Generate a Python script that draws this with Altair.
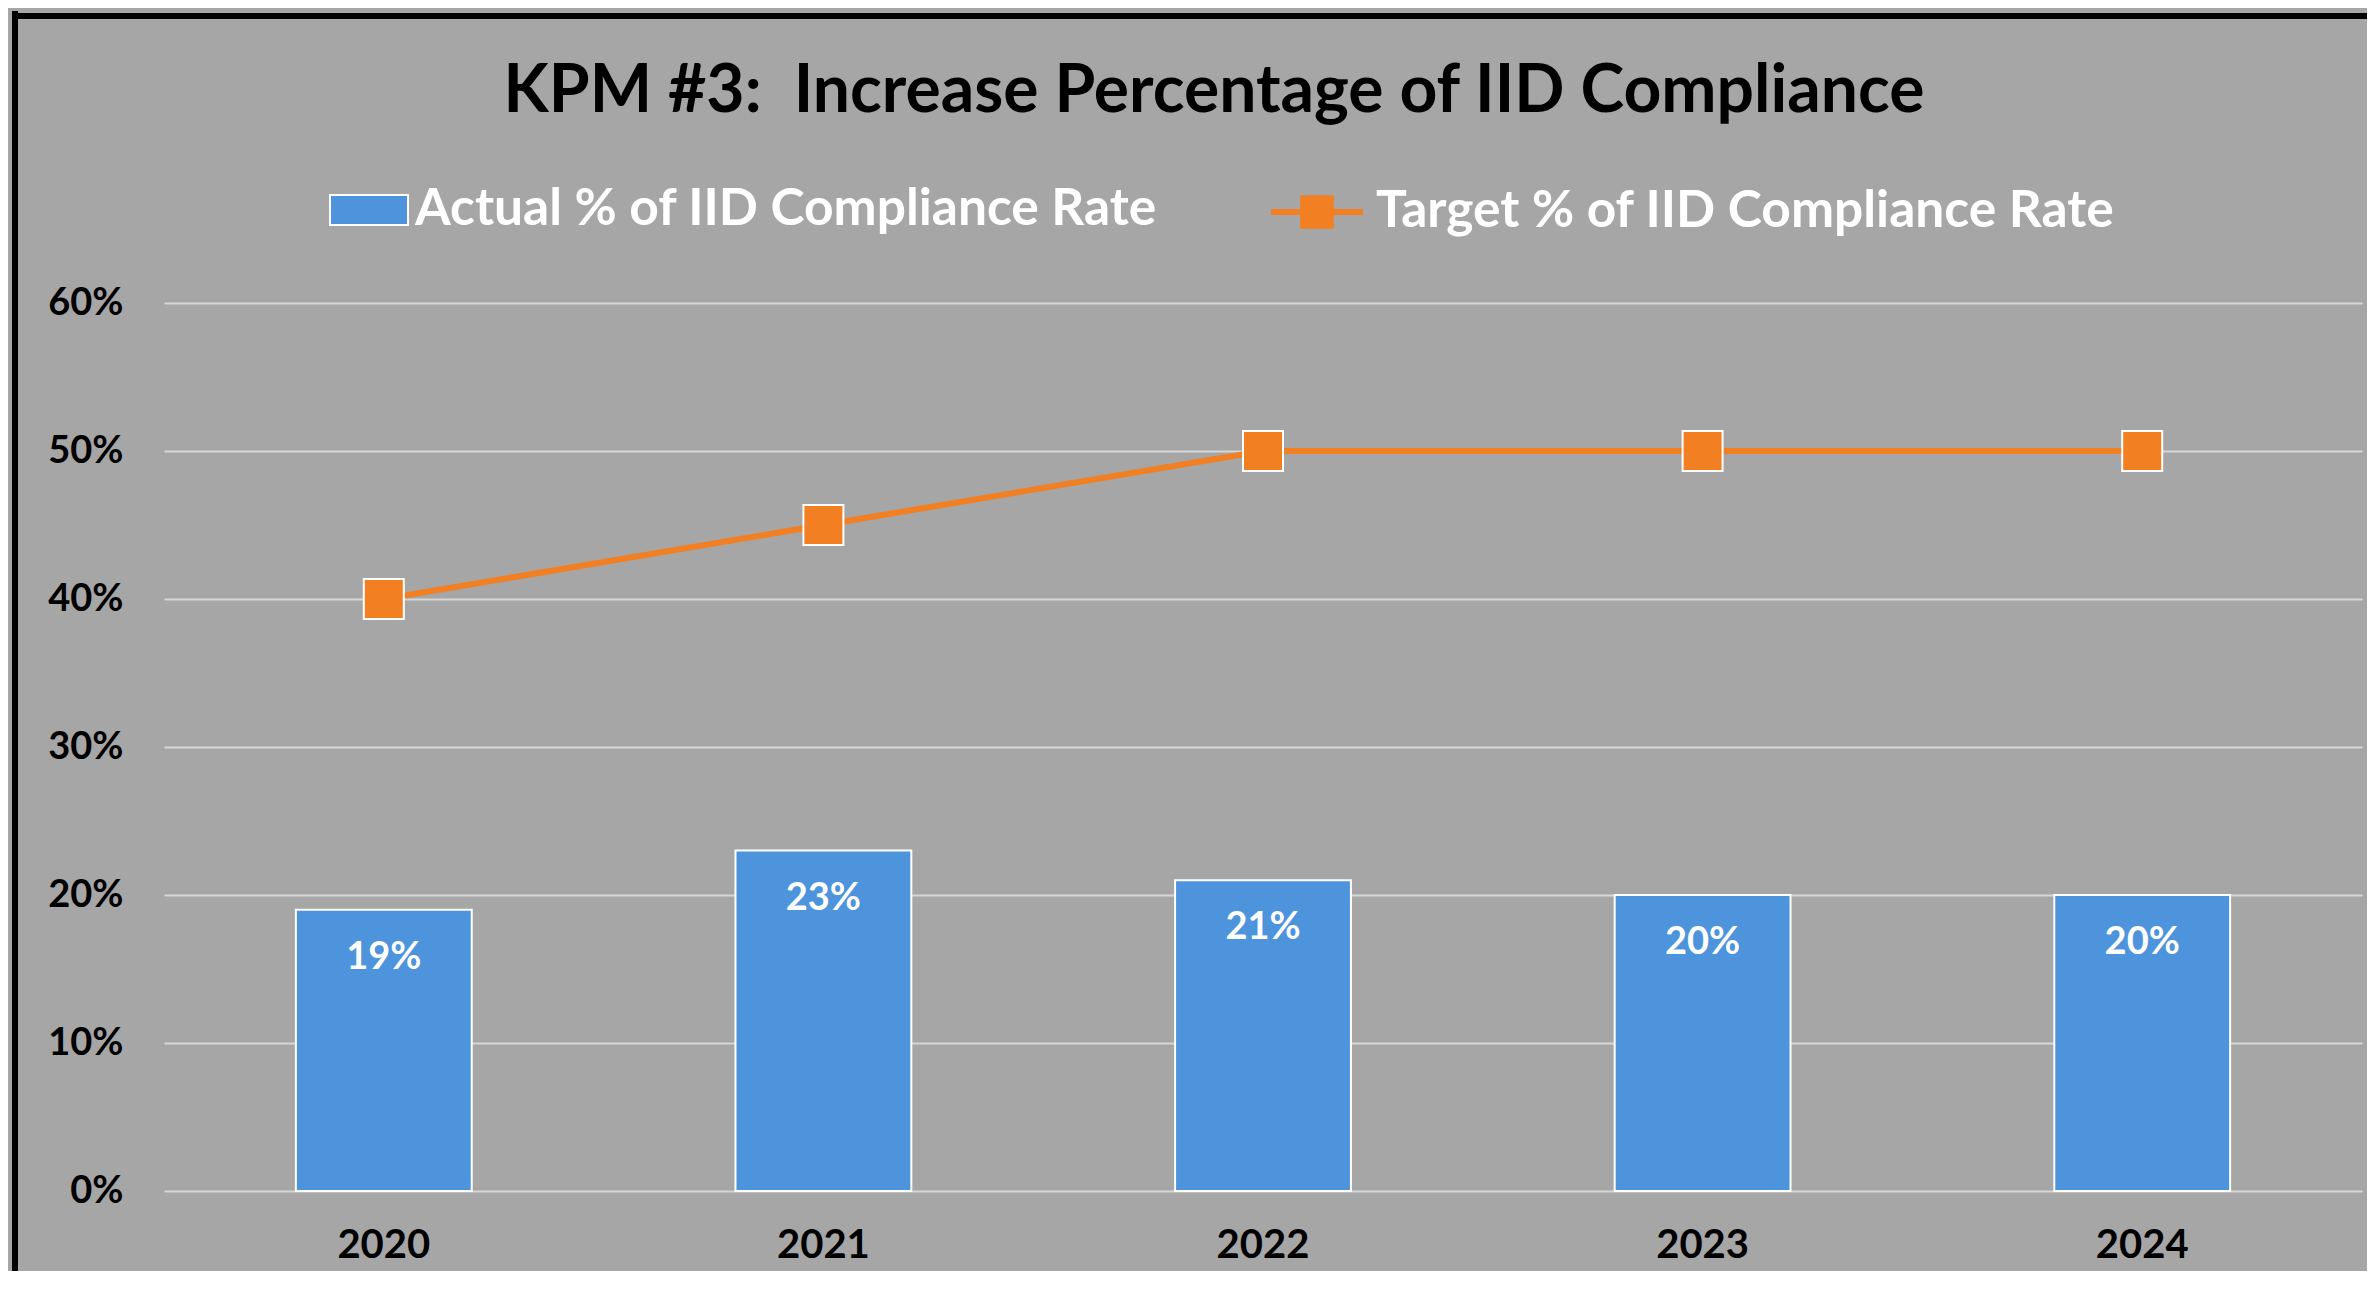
import altair as alt
import pandas as pd

years = ["2020", "2021", "2022", "2023", "2024"]
actual = [0.19, 0.23, 0.21, 0.20, 0.20]
target = [0.40, 0.45, 0.50, 0.50, 0.50]
actual_name = "Actual % of IID Compliance Rate"
target_name = "Target % of IID Compliance Rate"
y_ticks = [0.0, 0.1, 0.2, 0.3, 0.4, 0.5, 0.6]
title_text = "KPM #3:\u00a0 Increase Percentage of IID Compliance"

df = pd.DataFrame({
    "year": years,
    "actual": actual,
    "target": target,
    "s_actual": [actual_name] * len(years),
    "s_target": [target_name] * len(years),
})

FONT = "Lato"
BLUE = "#4d94dc"
ORANGE = "#f27f22"
GRAY = "#a6a6a6"
GRID = "#d6d6d6"

x = alt.X(
    "year:N",
    scale=alt.Scale(paddingInner=0.6, paddingOuter=0.3),
    axis=alt.Axis(title=None, labelAngle=0, ticks=False, domain=False, grid=False,
                  labelFont=FONT, labelFontSize=40, labelFontWeight="bold",
                  labelColor="#000000", labelPadding=34),
)
yscale = alt.Scale(domain=[0, 0.6], nice=False)

base = alt.Chart(df)

bars = base.mark_bar(stroke="white", strokeWidth=2).encode(
    x=x,
    y=alt.Y("actual:Q", scale=yscale,
            axis=alt.Axis(title=None, values=y_ticks, format=".0%", ticks=False, domain=False,
                          gridColor=GRID, gridWidth=2, labelFont=FONT, labelFontSize=38,
                          labelFontWeight="bold", labelColor="#000000", labelPadding=41)),
    color=alt.Color("s_actual:N", scale=alt.Scale(domain=[actual_name], range=[BLUE]),
                    legend=alt.Legend(title=None, orient="none", legendX=165, legendY=-133,
                                      symbolType="M-1,-0.385L1,-0.385L1,0.385L-1,0.385Z",
                                      symbolSize=6084, symbolStrokeColor="white",
                                      symbolStrokeWidth=2, symbolFillColor=BLUE,
                                      symbolOpacity=1, labelFont=FONT, labelFontSize=51.5,
                                      labelFontWeight="bold", labelColor="white",
                                      labelLimit=2000, labelOffset=6, padding=0)),
)

labels = base.mark_text(font=FONT, fontSize=38, fontWeight="bold", color="white",
                        baseline="middle", dy=48).encode(
    x=alt.X("year:N"),
    y=alt.Y("actual:Q"),
    text=alt.Text("actual:Q", format=".0%"),
)

line = base.mark_line(strokeWidth=6).encode(
    x=alt.X("year:N"),
    y=alt.Y("target:Q"),
    color=alt.Color("s_target:N", scale=alt.Scale(domain=[target_name], range=[ORANGE]),
                    legend=alt.Legend(title=None, orient="none", legendX=1104, legendY=-140,
                                      symbolType="M-1,0L1,0M-0.3,-0.3L0.3,-0.3L0.3,0.3L-0.3,0.3Z",
                                      symbolSize=8464, symbolStrokeColor=ORANGE,
                                      symbolStrokeWidth=6, symbolFillColor=ORANGE,
                                      symbolOpacity=1, labelFont=FONT, labelFontSize=51.5,
                                      labelFontWeight="bold", labelColor="white",
                                      labelLimit=2000, labelOffset=10, padding=0)),
)

markers = base.mark_square(size=1600, filled=True, fill=ORANGE, stroke="white",
                           strokeWidth=2, opacity=1).encode(
    x=alt.X("year:N"),
    y=alt.Y("target:Q"),
)

frame = alt.Chart(alt.Data(values=[{"k": 1}]))
frame_left = frame.mark_rule(color="black", strokeWidth=6).encode(
    x=alt.value(-149), y=alt.value(-292), y2=alt.value(1000))
frame_top = frame.mark_rule(color="black", strokeWidth=6).encode(
    x=alt.value(-152), x2=alt.value(2230), y=alt.value(-287))

chart = alt.layer(bars, labels, line, markers, frame_left, frame_top).resolve_scale(
    color="independent"
).properties(
    width=2198,
    height=888,
    padding={"left": 156, "top": 295, "right": 5, "bottom": 80},
    autosize=alt.AutoSizeParams(type="none"),
    title=alt.Title(title_text, font=FONT, fontSize=66, fontWeight="bold", color="black",
                    anchor="middle", dx=-49, offset=-118),
).configure(
    background=GRAY,
).configure_view(
    stroke=None,
)

chart.save("out.html", embed_options={"renderer": "svg", "actions": False})
